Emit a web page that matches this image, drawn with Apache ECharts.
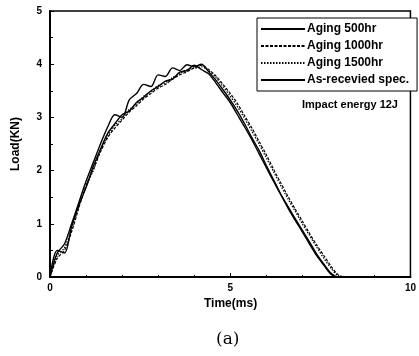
<!DOCTYPE html>
<html>
<head>
<meta charset="utf-8">
<script src="https://cdn.jsdelivr.net/npm/echarts@6/dist/echarts.min.js"></script>
<style>
  html, body { margin: 0; padding: 0; background: #fff; }
  #main { width: 419px; height: 356px; }
</style>
</head>
<body>
<div id="main"></div>
<script>
// time axis (ms), shared by all curves
var timeMs = [0, 0.2, 0.4, 0.6, 0.8, 1.0, 1.2, 1.4, 1.6, 1.8, 2.0, 2.2, 2.4, 2.6, 2.8, 3.0, 3.2, 3.4, 3.6, 3.8,
  4.0, 4.2, 4.4, 4.6, 4.8, 5.0, 5.2, 5.4, 5.6, 5.8, 6.0, 6.2, 6.4, 6.6, 6.8, 7.0, 7.2, 7.4, 7.6, 7.8, 8.0, 8.2];

// load (kN)
var aging500 = [0, 0.45, 0.62, 1.0, 1.4, 1.8, 2.15, 2.5, 2.82, 3.05, 3.0, 3.33, 3.45, 3.62, 3.58, 3.8, 3.77, 3.93, 3.88, 3.99,
  3.95, 4.0, 3.86, 3.7, 3.52, 3.33, 3.12, 2.88, 2.62, 2.38, 2.1, 1.83, 1.56, 1.33, 1.1, 0.88, 0.66, 0.43, 0.24, 0.07, 0, 0];
var aging1000 = [0, 0.35, 0.5, 0.85, 1.3, 1.72, 2.02, 2.35, 2.62, 2.8, 2.95, 3.1, 3.22, 3.35, 3.45, 3.55, 3.62, 3.72, 3.8, 3.86,
  3.93, 3.98, 3.9, 3.78, 3.62, 3.45, 3.26, 3.03, 2.8, 2.55, 2.3, 2.03, 1.77, 1.52, 1.28, 1.05, 0.82, 0.6, 0.4, 0.2, 0.04, 0];
var aging1500 = [0, 0.4, 0.55, 0.9, 1.32, 1.7, 2.0, 2.38, 2.65, 2.85, 2.98, 3.15, 3.25, 3.4, 3.48, 3.6, 3.65, 3.75, 3.82, 3.9,
  3.92, 3.95, 3.88, 3.75, 3.58, 3.4, 3.2, 2.98, 2.74, 2.5, 2.24, 1.98, 1.72, 1.47, 1.24, 1.0, 0.78, 0.56, 0.35, 0.16, 0.02, 0];
var asReceived = [0, 0.5, 0.45, 0.95, 1.35, 1.68, 2.08, 2.4, 2.7, 2.88, 3.05, 3.12, 3.28, 3.38, 3.5, 3.58, 3.68, 3.72, 3.85, 3.88,
  3.98, 3.9, 3.82, 3.65, 3.46, 3.28, 3.05, 2.82, 2.58, 2.32, 2.06, 1.8, 1.55, 1.3, 1.07, 0.85, 0.62, 0.4, 0.22, 0.05, 0, 0];

var seriesNames = ['Aging 500hr', 'Aging 1000hr', 'Aging 1500hr', 'As-recevied spec.'];

function pairs(arr) {
  return timeMs.map(function (t, i) { return [t, arr[i]]; });
}

var chartDom = document.getElementById('main');
var myChart = echarts.init(chartDom);

var sans = 'Arial, "Liberation Sans", sans-serif';
var labelFont = { color: '#000', fontFamily: sans, fontWeight: 'bold', fontSize: 10 };

function lineSeries(name, arr, width, type) {
  return {
    name: name, type: 'line', data: pairs(arr), symbol: 'none', smooth: 0.3,
    lineStyle: { color: '#000', width: width, type: type }, itemStyle: { color: '#000' }
  };
}

var option = {
  animation: false,
  backgroundColor: '#fff',
  grid: {
    left: 50, right: 6, top: 11, bottom: 79,
    show: true, borderColor: '#000', borderWidth: 1.5
  },
  legend: {
    data: seriesNames,
    orient: 'vertical',
    left: 257, top: 18,
    width: 156,
    padding: [5, 8, 5, 3],
    itemGap: 5,
    itemWidth: 44,
    itemHeight: 12,
    borderColor: '#000',
    borderWidth: 1,
    backgroundColor: '#fff',
    itemStyle: { opacity: 0 },
    textStyle: { color: '#000', fontFamily: sans, fontWeight: 'bold', fontSize: 12, padding: [0, 0, 0, -3] }
  },
  graphic: [
    {
      type: 'text', left: 302, top: 99,
      style: { text: 'Impact energy 12J', fill: '#000', font: 'bold 11px ' + sans }
    },
    {
      type: 'text', left: 204, top: 298,
      style: { text: 'Time(ms)', fill: '#000', font: 'bold 12px ' + sans }
    },
    {
      type: 'text', left: 216, top: 331,
      style: { text: '(a)', fill: '#000', font: '17px "DejaVu Serif", "Liberation Serif", serif' }
    }
  ],
  xAxis: {
    type: 'value',
    min: 0, max: 10, interval: 5,
    axisLine: { lineStyle: { color: '#000', width: 2 } },
    axisTick: { inside: true, length: 4, lineStyle: { color: '#000' } },
    minorTick: { show: true, splitNumber: 5, length: 2, lineStyle: { color: '#000' } },
    splitLine: { show: false },
    axisLabel: Object.assign({ margin: 6 }, labelFont)
  },
  yAxis: {
    type: 'value',
    min: 0, max: 5, interval: 1,
    name: 'Load(KN)',
    nameLocation: 'middle',
    nameGap: 28,
    nameTextStyle: { color: '#000', fontFamily: sans, fontWeight: 'bold', fontSize: 12 },
    axisLine: { lineStyle: { color: '#000', width: 2 } },
    axisTick: { inside: true, length: 4, lineStyle: { color: '#000' } },
    minorTick: { show: true, splitNumber: 2, length: 3, lineStyle: { color: '#000' } },
    splitLine: { show: false },
    axisLabel: Object.assign({ margin: 8 }, labelFont)
  },
  series: [
    lineSeries(seriesNames[0], aging500, 1.4, 'solid'),
    lineSeries(seriesNames[1], aging1000, 1.2, [3, 1.5]),
    lineSeries(seriesNames[2], aging1500, 1.2, [1.5, 1.5]),
    lineSeries(seriesNames[3], asReceived, 1.4, 'solid')
  ]
};

option && myChart.setOption(option);
</script>
</body>
</html>
